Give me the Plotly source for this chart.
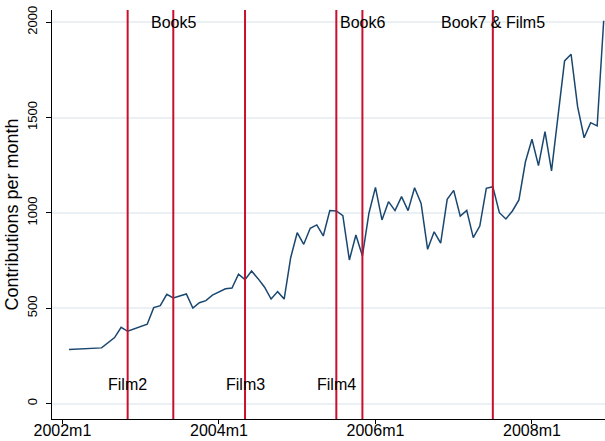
"""Monthly contributions with Harry Potter book/film release markers."""

import plotly.graph_objects as go

# Monthly contributions (Stata-style month labels)
months = [
    "2002m2", "2002m7", "2002m9", "2002m10", "2002m11", "2003m2", "2003m3",
    "2003m4", "2003m5", "2003m6", "2003m8", "2003m9", "2003m10", "2003m11",
    "2003m12", "2004m2", "2004m3", "2004m4", "2004m5", "2004m6", "2004m7",
    "2004m8", "2004m9", "2004m10", "2004m11", "2004m12", "2005m1", "2005m2",
    "2005m3", "2005m4", "2005m5", "2005m6", "2005m7", "2005m8", "2005m9",
    "2005m10", "2005m11", "2005m12", "2006m1", "2006m2", "2006m3", "2006m4",
    "2006m5", "2006m6", "2006m7", "2006m8", "2006m9", "2006m10", "2006m11",
    "2006m12", "2007m1", "2007m2", "2007m3", "2007m4", "2007m5", "2007m6",
    "2007m7", "2007m8", "2007m9", "2007m10", "2007m11", "2007m12", "2008m1",
    "2008m2", "2008m3", "2008m4", "2008m6", "2008m7", "2008m8", "2008m9",
    "2008m10", "2008m11", "2008m12",
]
contributions = [
    283, 292, 346, 400, 379, 416, 503,
    513, 573, 554, 575, 501, 529, 540,
    569, 602, 606, 678, 650, 695, 655,
    610, 548, 587, 548, 765, 896, 835,
    919, 937, 879, 1012, 1010, 985, 753,
    884, 774, 998, 1134, 963, 1059, 1012,
    1085, 1012, 1132, 1050, 809, 901, 841,
    1071, 1118, 983, 1013, 870, 931, 1129,
    1137, 1001, 968, 1010, 1068, 1268, 1386,
    1248, 1426, 1220, 1797, 1832, 1557, 1394,
    1473, 1456, 2008,
]

# Release events
event_months = ["2002m11", "2003m6", "2004m5", "2005m7", "2005m11", "2007m7"]
event_labels = ["Film2", "Book5", "Film3", "Film4", "Book6", "Book7 & Film5"]
event_on_top = [False, True, False, False, True, True]

x_tick_labels = ["2002m1", "2004m1", "2006m1", "2008m1"]
y_ticks = [0, 500, 1000, 1500, 2000]


def month_index(label):
    """Convert '2003m6' to months since 2002m1."""
    year, month = label.split("m")
    return (int(year) - 2002) * 12 + int(month) - 1


FONT = "Liberation Sans, Arial, sans-serif"
x = [month_index(m) for m in months]

fig = go.Figure()

fig.add_trace(go.Scatter(
    x=x,
    y=contributions,
    mode='lines',
    line=dict(color='#1a476f', width=1.5),
    showlegend=False
))

# Vertical release lines and their labels
for m, label, top in zip(event_months, event_labels, event_on_top):
    ex = month_index(m)
    fig.add_shape(
        type='line', xref='x', yref='paper',
        x0=ex, x1=ex, y0=0, y1=1,
        line=dict(color='#c8102e', width=2)
    )
    fig.add_annotation(
        x=ex, y=2000 if top else 100,
        text=label, showarrow=False,
        font=dict(family=FONT, size=16, color='black'),
        xanchor='center', yanchor='middle'
    )

# y axis title, placed by hand like Stata does
fig.add_annotation(
    xref='paper', yref='paper', x=-0.074, y=0.5,
    text="Contributions per month", textangle=-90,
    showarrow=False, xanchor='center', yanchor='middle',
    font=dict(family=FONT, size=18, color='black')
)

fig.update_layout(
    width=605,
    height=441,
    margin=dict(l=52, r=0, t=10, b=22),
    plot_bgcolor='white',
    paper_bgcolor='white',
    font=dict(family=FONT, color='black'),
    xaxis=dict(
        range=[-1.6, 83.2],
        tickvals=[month_index(t) for t in x_tick_labels],
        ticktext=x_tick_labels,
        ticks='outside', ticklen=4, tickcolor='black',
        ticklabelstandoff=-7,
        showline=True, linecolor='black', linewidth=1,
        showgrid=False, zeroline=False,
        tickfont=dict(size=16),
        automargin=False
    ),
    yaxis=dict(
        range=[-81, 2064],
        tickvals=y_ticks,
        tickangle=-90,
        ticks='outside', ticklen=5, tickcolor='black',
        ticklabelstandoff=4,
        showline=True, linecolor='black', linewidth=1,
        showgrid=True, gridcolor='#eaf0f4', gridwidth=1.5,
        zeroline=False,
        tickfont=dict(size=13),
        automargin=False
    )
)

# page body has a default margin; drop it so the figure sits at the corner
fig.write_html(
    "out.html",
    config={'displayModeBar': False},
    post_script="document.body.style.margin='0';"
)
